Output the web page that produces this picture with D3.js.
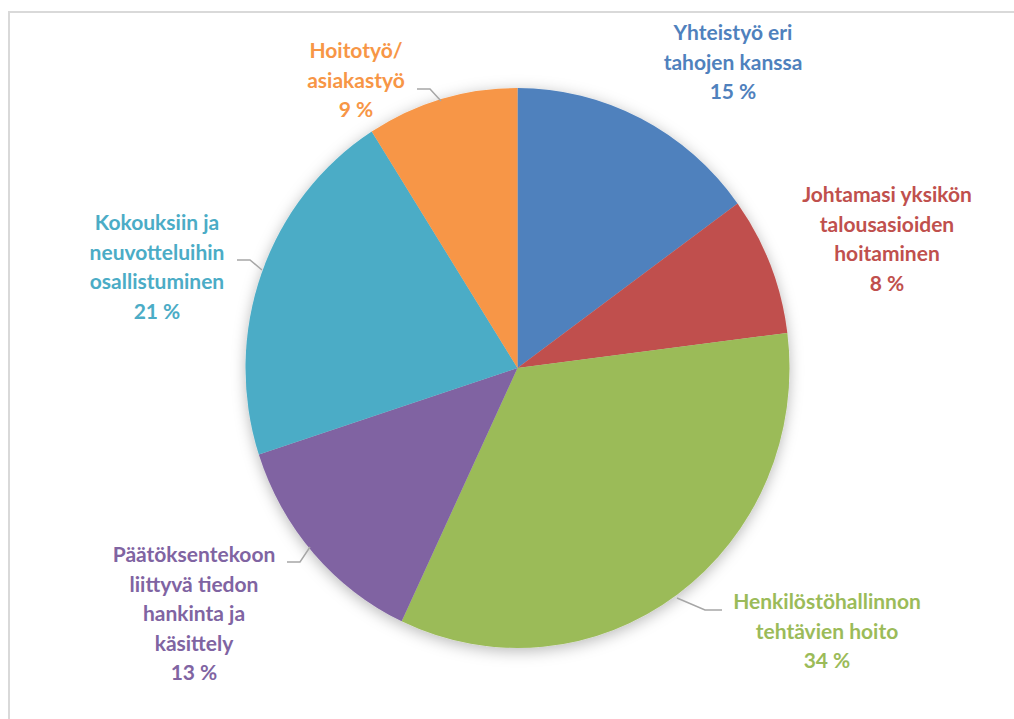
<!DOCTYPE html>
<html>
<head>
<meta charset="utf-8">
<script src="https://cdn.jsdelivr.net/npm/d3@7/dist/d3.min.js"></script>
<style>
  html, body { margin: 0; padding: 0; background: #ffffff; }
  svg { display: block; }
  text { font-family: Lato, "Open Sans", sans-serif; font-weight: 700; }
</style>
</head>
<body>
<svg id="chart" width="1014" height="719"></svg>
<script>
// Work time distribution by task area (share of time, %)
const categories = [
  "Yhteistyö eri tahojen kanssa",
  "Johtamasi yksikön talousasioiden hoitaminen",
  "Henkilöstöhallinnon tehtävien hoito",
  "Päätöksentekoon liittyvä tiedon hankinta ja käsittely",
  "Kokouksiin ja neuvotteluihin osallistuminen",
  "Hoitotyö/ asiakastyö"
];
const values = [15, 8, 34, 13, 21, 9];
const colors = ["#4F81BD", "#C0504D", "#9BBB59", "#8064A2", "#4BACC6", "#F79646"];
// Label text broken into lines as set in the chart
const labelLines = [
  ["Yhteistyö eri", "tahojen kanssa"],
  ["Johtamasi yksikön", "talousasioiden", "hoitaminen"],
  ["Henkilöstöhallinnon", "tehtävien hoito"],
  ["Päätöksentekoon", "liittyvä tiedon", "hankinta ja", "käsittely"],
  ["Kokouksiin ja", "neuvotteluihin", "osallistuminen"],
  ["Hoitotyö/", "asiakastyö"]
];

const svg = d3.select("#chart");

// Outer frame
svg.append("path")
  .attr("d", "M9,719 L9,12 L1014,12")
  .attr("fill", "none")
  .attr("stroke", "#d9d9d9")
  .attr("stroke-width", 2);

const defs = svg.append("defs");
const f = defs.append("filter").attr("id", "shadow")
  .attr("x", "-20%").attr("y", "-20%").attr("width", "140%").attr("height", "140%");
f.append("feDropShadow")
  .attr("dx", 0).attr("dy", 3).attr("stdDeviation", 7)
  .attr("flood-color", "#000").attr("flood-opacity", 0.28);

const cx = 517.5, cy = 368, rx = 272, ry = 280;
const r = rx;

const pie = d3.pie().sort(null).value(d => d);
const arcs = pie(values);
const arc = d3.arc().innerRadius(0).outerRadius(r);

const g = svg.append("g")
  .attr("transform", `translate(${cx},${cy}) scale(1,${ry / rx})`);

g.append("g").attr("filter", "url(#shadow)")
  .selectAll("path")
  .data(arcs)
  .join("path")
  .attr("d", arc)
  .attr("fill", (d, i) => colors[i]);

// Label placement: centre x and first baseline, per slice
const labelPos = [
  { x: 733, y: 40 },
  { x: 887, y: 202 },
  { x: 827, y: 609 },
  { x: 194, y: 562 },
  { x: 157, y: 230 },
  { x: 356, y: 58 }
];
const lineH = 29.5;

labelLines.forEach((lines, i) => {
  const t = svg.append("text")
    .attr("text-anchor", "middle")
    .attr("font-size", 21)
    .attr("fill", colors[i]);
  const all = lines.concat([values[i] + " %"]);
  all.forEach((s, j) => {
    t.append("tspan")
      .attr("x", labelPos[i].x)
      .attr("y", labelPos[i].y + j * lineH)
      .text(s);
  });
});

// Leader lines from labels to slice edges
const leaders = [
  [[417, 89], [430, 89], [441, 101]],
  [[237, 260], [250, 260], [262, 270]],
  [[287, 562], [300, 562], [310, 547]],
  [[722, 610], [705, 610], [677, 598]]
];
svg.append("g").selectAll("path")
  .data(leaders)
  .join("path")
  .attr("d", d => d3.line()(d))
  .attr("fill", "none")
  .attr("stroke", "#a6a6a6")
  .attr("stroke-width", 1.5);
</script>
</body>
</html>
